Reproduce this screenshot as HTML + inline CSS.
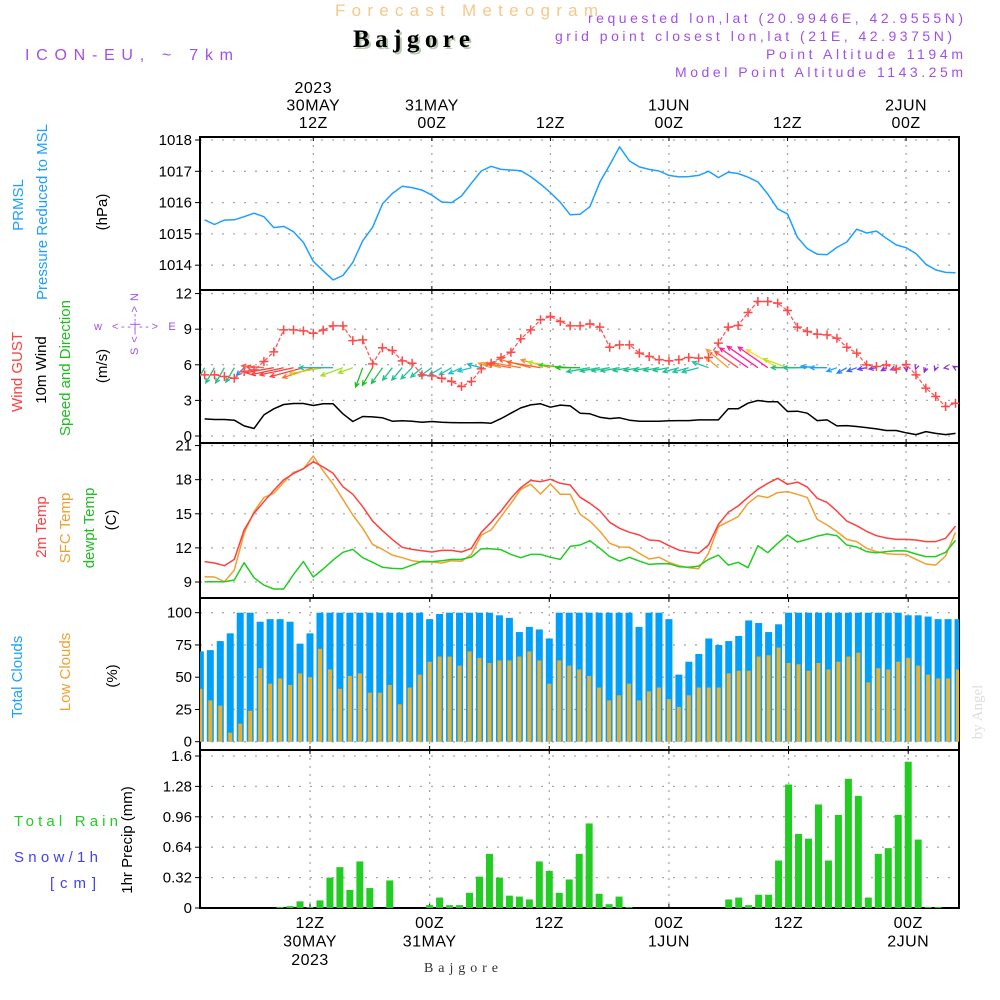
<!DOCTYPE html>
<html><head><meta charset="utf-8"><title>Forecast Meteogram - Bajgore</title>
<style>
html,body{margin:0;padding:0;background:#fff;}
svg{display:block;font-family:"Liberation Sans",sans-serif;}
</style></head>
<body>
<svg id="chart" width="1000" height="1000" viewBox="0 0 1000 1000" xmlns="http://www.w3.org/2000/svg">
<rect x="0" y="0" width="1000" height="1000" fill="#fff"/>
<text x="335" y="16" textLength="263" font-size="17" fill="#f5c88a">Forecast Meteogram</text>
<text x="355" y="49" font-family="Liberation Serif,serif" font-weight="bold" font-size="25" fill="#b8c8b0" textLength="117">Bajgore</text>
<text x="353" y="47" font-family="Liberation Serif,serif" font-weight="bold" font-size="25" fill="#000" textLength="117">Bajgore</text>
<text x="25" y="60" textLength="208" font-size="16" fill="#a050e8">ICON-EU, ~ 7km</text>
<g font-size="14" fill="#a050e8">
<text x="588" y="23" textLength="375">requested lon,lat (20.9946E, 42.9555N)</text>
<text x="555" y="41" textLength="397">grid point closest lon,lat (21E, 42.9375N)</text>
<text x="766" y="59" textLength="197">Point Altitude 1194m</text>
<text x="675" y="77" textLength="288">Model Point Altitude 1143.25m</text>
</g>
<g id="plots"></g>
<text x="424" y="972" font-family="Liberation Serif,serif" font-size="14" fill="#333" textLength="74">Bajgore</text>
<text transform="translate(982,712) rotate(-90)" text-anchor="middle" font-family="Liberation Serif,serif" font-size="15" fill="#ddd">by Angel</text>
<g font-size="15">
<text x="14" y="826" fill="#22cc22" textLength="104">Total  Rain</text>
<text x="14" y="862" fill="#4040ff" textLength="84">Snow/1h</text>
<text x="50" y="888" fill="#4040ff" textLength="46">[cm]</text>
</g>
<g fill="#a050e8" font-size="11" text-anchor="middle">
<text x="98" y="330">w</text>
<text x="172" y="330">E</text>
<text x="135" y="330" textLength="46">&lt;--|--&gt;</text>
<text transform="translate(138,324) rotate(-90)" textLength="62">S &lt;--|--&gt; N</text>
</g>
</svg>
<script>
// ---------- DATA ----------
const hours = [];
for (let h = 1; h <= 77; h++) hours.push(h); // hours after 00Z 30 MAY
const pressure = [1015.45,1015.30,1015.44,1015.45,1015.55,1015.66,1015.55,1015.20,1015.24,1015.07,1014.73,1014.12,1013.82,1013.53,1013.67,1014.09,1014.78,1015.21,1015.96,1016.29,1016.52,1016.48,1016.40,1016.24,1016.02,1016.00,1016.21,1016.62,1017.01,1017.16,1017.06,1017.04,1017.02,1016.83,1016.59,1016.32,1016.01,1015.61,1015.63,1015.87,1016.65,1017.20,1017.78,1017.33,1017.14,1017.06,1017.01,1016.87,1016.82,1016.83,1016.87,1017.00,1016.80,1016.97,1016.93,1016.81,1016.66,1016.27,1015.80,1015.64,1014.89,1014.53,1014.35,1014.34,1014.57,1014.74,1015.15,1015.03,1015.09,1014.86,1014.65,1014.56,1014.37,1014.03,1013.85,1013.77,1013.76];
const gust = [5.15,5.15,5.01,4.87,5.43,5.57,6.28,7.09,8.94,8.94,8.86,8.66,8.92,9.28,9.28,8.04,8.10,6.08,7.43,7.20,6.33,6.13,5.15,5.07,4.87,4.59,4.17,4.59,5.66,6.13,6.61,7.06,8.19,8.94,9.79,10.07,9.65,9.28,9.28,9.45,9.17,7.48,7.68,7.68,6.98,6.70,6.42,6.33,6.42,6.61,6.56,6.61,7.82,9.17,9.31,10.40,11.33,11.33,11.19,10.57,9.17,8.80,8.58,8.52,8.24,7.48,6.98,5.99,5.85,5.99,5.63,6.02,5.15,4.03,3.33,2.48,2.76];
const windSpeed = [1.44,1.39,1.39,1.33,0.85,0.63,1.78,2.29,2.65,2.74,2.74,2.57,2.71,2.71,1.87,1.22,1.64,1.61,1.53,1.25,1.28,1.25,1.16,1.22,1.16,1.13,1.11,1.11,1.13,1.08,1.47,1.92,2.37,2.62,2.71,2.43,2.60,2.54,1.92,1.87,1.58,1.47,1.53,1.33,1.25,1.25,1.25,1.28,1.30,1.30,1.36,1.36,1.36,2.29,2.29,2.76,2.99,2.88,2.88,2.06,2.09,1.92,1.30,1.36,0.85,0.88,0.80,0.71,0.60,0.46,0.46,0.27,0.12,0.37,0.22,0.12,0.22];
const windDir = [30,30,30,30,45,100,95,80,78,78,75,72,80,90,70,70,20,30,35,38,40,45,50,55,60,60,65,75,105,110,105,100,100,105,100,105,100,95,90,80,80,80,80,80,80,80,80,80,75,75,75,110,130,130,125,125,125,125,120,110,90,90,95,90,70,60,70,80,80,60,70,350,20,20,20,80,120];
const windColor = ["#22c080","#22c080","#22c080","#22c080","#1e90ff","#ff4040","#ff6040","#ff4040","#ff4040","#ff4040","#ff4040","#ff7030","#d0d020","#20c0a0","#a0e020","#a0e020","#20c020","#20c020","#20c060","#20c080","#20c090","#20c0a0","#20c0a0","#20c0b0","#20c0c0","#20c0c0","#20c0d0","#20c0d0","#20b0d0","#f0a030","#f0a030","#ff6040","#f08030","#f08030","#ff6030","#f09030","#c0e020","#40d020","#20c020","#20c090","#20c090","#20c090","#20c090","#20c090","#20c090","#20c090","#20c090","#20c090","#20c0a0","#20c0a0","#20c0a0","#20c0a0","#f0a030","#f0a030","#ff5050","#ff20a0","#ff20a0","#ff20a0","#f0e020","#c0e020","#20c080","#20c080","#20a0ff","#20a0ff","#20a0ff","#2080ff","#4060ff","#6040ff","#8040e0","#9030e0","#9030e0","#9030e0","#9030e0","#9030e0","#9030e0","#9030e0","#9030e0"];
const temp2m = [10.79,10.67,10.43,10.99,13.57,15.04,16.06,17.06,18.0,18.53,18.97,19.58,19.11,18.56,17.38,16.71,15.62,14.36,13.51,12.75,12.05,11.87,11.75,11.64,11.78,11.78,11.64,11.96,13.37,14.25,15.24,16.36,17.30,17.94,17.82,18.03,17.68,17.53,16.45,15.92,15.27,14.25,13.72,13.37,13.13,12.69,12.63,12.19,11.81,11.64,11.52,12.25,14.07,15.13,15.68,16.45,17.15,17.68,18.12,17.59,17.79,17.35,16.36,16.00,15.24,14.36,13.95,13.45,13.07,12.87,12.75,12.75,12.69,12.55,12.55,12.84,13.92];
const tempSfc = [9.47,9.44,9.03,10.05,13.28,15.18,16.42,16.80,17.77,18.65,18.94,20.08,18.76,17.62,16.27,14.89,13.72,12.31,11.87,11.37,11.14,10.87,10.76,10.76,10.67,10.87,10.82,11.43,13.13,13.57,14.74,15.91,17.15,17.59,16.74,17.62,16.71,16.71,14.95,14.36,13.48,12.40,12.08,12.05,11.52,11.02,11.17,10.73,10.43,10.26,10.17,11.52,13.87,14.30,14.74,15.92,16.59,16.42,16.86,16.95,16.71,16.42,14.51,14.01,13.43,12.75,12.55,11.96,11.67,11.49,11.43,11.43,10.99,10.58,10.49,11.29,13.37];
const dewpt = [9.03,9.03,9.03,9.18,10.70,9.38,8.73,8.38,8.38,9.67,10.79,9.44,10.14,10.93,11.61,11.87,11.14,10.73,10.29,10.20,10.17,10.49,10.82,10.79,10.87,10.99,10.99,11.20,11.93,11.93,11.84,11.43,11.14,11.43,11.43,11.17,10.99,12.13,12.25,12.63,11.96,11.23,10.84,11.17,10.84,10.55,10.61,10.61,10.35,10.29,10.40,10.99,11.37,10.49,10.73,10.26,12.19,11.58,12.40,13.13,12.52,12.75,13.04,13.22,13.07,12.25,12.08,11.67,11.58,11.67,11.75,11.73,11.46,11.23,11.23,11.61,12.66];
const totalClouds = [70,71,78,84,100,100,93,95,95,93,76,84,100,100,100,100,100,100,100,100,100,100,100,95,99,100,100,100,100,100,98,96,85,89,87,80,100,100,100,100,100,100,100,100,89,100,100,95,52,62,68,80,75,78,82,94,92,85,91,100,100,100,100,100,100,100,100,100,100,100,100,98,98,97,95,95,95];
const lowClouds = [41,32,28,7,14,24,57,45,49,44,53,50,72,56,41,51,53,38,38,44,29,42,52,62,66,66,59,70,65,61,63,63,66,70,63,45,63,59,56,51,42,32,36,45,32,39,42,33,27,36,42,42,42,53,55,55,66,67,73,61,60,55,61,56,62,66,69,46,57,56,62,65,59,52,49,49,56];
const precip = [0,0,0,0,0,0,0,0,0.01,0.02,0.07,0.01,0.08,0.32,0.43,0.19,0.49,0.21,0,0.29,0,0,0,0.03,0.11,0.03,0.03,0.16,0.33,0.57,0.32,0.13,0.12,0.09,0.49,0.39,0.16,0.30,0.57,0.89,0.15,0.04,0.12,0.01,0,0,0,0,0,0,0,0,0,0.09,0.11,0.03,0.14,0.14,0.50,1.30,0.78,0.73,1.09,0.50,0.98,1.36,1.18,0.11,0.57,0.63,0.98,1.54,0.72,0.01,0.01,0,0];
const pressureTicks = [1018,1017,1016,1015,1014];
const windTicks = [12,9,6,3,0];
const tempTicks = [21,18,15,12,9];
const cloudTicks = [100,75,50,25,0];
const precipTicks = ["1.6","1.28","0.96","0.64","0.32","0"];
const gridHours = [12,24,36,48,60,72];
const topLabels = [["2023","30MAY","12Z"],["","31MAY","00Z"],["","","12Z"],["","1JUN","00Z"],["","","12Z"],["","2JUN","00Z"]];
const bottomLabels = [["12Z","30MAY","2023"],["00Z","31MAY",""],["12Z","",""],["00Z","1JUN",""],["12Z","",""],["00Z","2JUN",""]];

// ---------- AXES ----------
const X0 = 200, X1 = 959;
const xLine = t => 313.3 + (t - 12) * 9.88;
const xBar = t => 310 + (t - 12) * 9.97;
const yP = v => 140 + (1018 - v) * 31.3;
const yW = v => 436 - v * 11.87;
const yT = v => 582 - (v - 9) * 11.37;
const yC = v => 741.7 - v * 1.29;
const yR = v => 908 - v * 95;
const panels = [
  {name:"pressure-panel", top:137, bot:290, ticks:pressureTicks, y:yP},
  {name:"wind-panel", top:290, bot:443, ticks:windTicks, y:yW},
  {name:"temperature-panel", top:443, bot:598, ticks:tempTicks, y:yT},
  {name:"cloud-panel", top:598, bot:750, ticks:cloudTicks, y:yC},
  {name:"precip-panel", top:750, bot:908, ticks:precipTicks, y:yR}
];

const NS = "http://www.w3.org/2000/svg";
const root = document.getElementById("plots");
function mk(tag, attrs, parent) {
  const e = document.createElementNS(NS, tag);
  for (const k in attrs) e.setAttribute(k, attrs[k]);
  (parent || root).appendChild(e);
  return e;
}
function txt(s, x, y, attrs, parent) {
  const e = mk("text", Object.assign({x:x, y:y}, attrs), parent);
  e.textContent = s;
  return e;
}

const defs = mk("defs", {});
const cp = mk("clipPath", {id:"plotclip"}, defs);
mk("rect", {x:X0, y:137, width:X1 - X0, height:771}, cp);

panels.forEach(p => {
  const g = mk("g", {});
  
  
  p.ticks.forEach(tv => {
    const v = parseFloat(tv);
    const y = p.y(v);
    mk("line", {x1:X0, x2:X1, y1:y, y2:y, stroke:"#aaa", "stroke-width":1.3, "stroke-dasharray":"2 9"}, g);
    mk("line", {x1:X0 - 5, x2:X0, y1:y, y2:y, stroke:"#000", "stroke-width":1}, g);
    const lab = txt(String(tv), X0 - 8, y + 5, {"text-anchor":"end", "font-size":15, fill:"#000"}, g);
    
    
  });
  const xf = (p.name === "cloud-panel" || p.name === "precip-panel") ? xBar : xLine;
  gridHours.forEach(h => {
    const x = xf(h);
    mk("line", {x1:x, x2:x, y1:p.top, y2:p.bot, stroke:"#aaa", "stroke-width":1.3, "stroke-dasharray":"2 6"}, g);
    mk("line", {x1:x, x2:x, y1:p.top, y2:p.top + 4, stroke:"#000", "stroke-width":1}, g);
    mk("line", {x1:x, x2:x, y1:p.bot - 4, y2:p.bot, stroke:"#000", "stroke-width":1}, g);
  });
  mk("rect", {x:X0, y:p.top, width:X1 - X0, height:p.bot - p.top, fill:"none", stroke:"#000", "stroke-width":2}, g);
});

gridHours.forEach((h, i) => {
  const x = xLine(h);
  topLabels[i].forEach((s, j) => {
    if (!s) return;
    const e = txt(s, x, 93 + j * 17.5, {"text-anchor":"middle", "font-size":16, fill:"#000", "letter-spacing":"0.5"});
    
    
  });
  const xb = xBar(h);
  bottomLabels[i].forEach((s, j) => {
    if (!s) return;
    const e = txt(s, xb, 928 + j * 18.5, {"text-anchor":"middle", "font-size":16, fill:"#000", "letter-spacing":"0.5"});
    
    
  });
});

function vt(s, x, y, color, name) {
  const e = txt(s, 0, 0, {transform:"translate(" + x + "," + y + ") rotate(-90)", "text-anchor":"middle", "font-size":15, fill:color});
  
  
}
vt("PRMSL", 23, 205, "#1ea0ff", "pressure-title");
vt("Pressure Reduced to MSL", 47, 212, "#1ea0ff", "pressure-subtitle");
vt("(hPa)", 107, 212, "#000", "pressure-unit");
vt("Wind GUST", 22, 372, "#ff4040", "gust-title");
vt("10m Wind", 46, 370, "#000", "wind-title");
vt("Speed and Direction", 70, 368, "#22bb22", "wind-dir-title");
vt("(m/s)", 107, 366, "#000", "wind-unit");
vt("2m Temp", 46, 527, "#ff4040", "temp2m-title");
vt("SFC Temp", 70, 528, "#f0a030", "sfc-temp-title");
vt("dewpt Temp", 94, 528, "#22bb22", "dewpt-title");
vt("(C)", 116, 520, "#000", "temp-unit");
vt("Total Clouds", 22, 677, "#1ea0ff", "total-clouds-title");
vt("Low Clouds", 70, 672, "#f0a030", "low-clouds-title");
vt("(%)", 117, 676, "#000", "cloud-unit");
vt("1hr Precip (mm)", 132, 840, "#000", "precip-title");

const plot = mk("g", {"clip-path":"url(#plotclip)"});

function series(vals, xf, yf, color, name, extra) {
  const pts = vals.map((v, i) => xf(hours[i]).toFixed(1) + "," + yf(v).toFixed(1)).join(" ");
  const e = mk("polyline", Object.assign({points:pts, fill:"none", stroke:color, "stroke-width":1.5, "stroke-linejoin":"round"}, extra || {}), plot);
  
  
}

totalClouds.forEach((v, i) => {
  const x = xBar(hours[i]);
  const r = mk("rect", {x:x - 3.5, y:yC(v), width:7, height:yC(0) - yC(v), fill:"#009ffa"}, plot);
  
  
});
lowClouds.forEach((v, i) => {
  const x = xBar(hours[i]);
  const r = mk("rect", {x:x - 2, y:yC(v), width:4, height:yC(0) - yC(v), fill:"#e8b030"}, plot);
  
  
});
precip.forEach((v, i) => {
  if (v <= 0) return;
  const x = xBar(hours[i]);
  const r = mk("rect", {x:x - 3.5, y:yR(v), width:7, height:yR(0) - yR(v), fill:"#22cc22"}, plot);
  
  
});

series(pressure, xLine, yP, "#1ea0ff", "pressure-line");
series(tempSfc, xLine, yT, "#f0a030", "sfc-temp-line");
series(temp2m, xLine, yT, "#ff4040", "temp2m-line");
series(dewpt, xLine, yT, "#22cc22", "dewpt-line");
series(windSpeed, xLine, yW, "#000", "wind-speed-line");

windDir.forEach((d, i) => {
  const x0 = xLine(hours[i]), y0 = yW(5.75);
  const len = windSpeed[i] * 12.5;
  const a = (d + 180) * Math.PI / 180;
  const dx = Math.sin(a) * len, dy = -Math.cos(a) * len;
  const x1 = x0 + dx, y1 = y0 + dy;
  const ang = Math.atan2(dy, dx);
  const hl = 5;
  const hx1 = x1 - hl * Math.cos(ang - 0.45), hy1 = y1 - hl * Math.sin(ang - 0.45);
  const hx2 = x1 - hl * Math.cos(ang + 0.45), hy2 = y1 - hl * Math.sin(ang + 0.45);
  const p = mk("path", {d:"M" + x0.toFixed(1) + "," + y0.toFixed(1) + "L" + x1.toFixed(1) + "," + y1.toFixed(1) + "M" + hx1.toFixed(1) + "," + hy1.toFixed(1) + "L" + x1.toFixed(1) + "," + y1.toFixed(1) + "L" + hx2.toFixed(1) + "," + hy2.toFixed(1), fill:"none", stroke:windColor[i], "stroke-width":1.3}, plot);
  
  
});

series(gust, xLine, yW, "#ff5050", "gust-line", {"stroke-dasharray":"4 2", "stroke-width":1.2});
gust.forEach((v, i) => {
  const x = xLine(hours[i]), y = yW(v);
  const p = mk("path", {d:"M" + (x - 4.5) + "," + y + "h9M" + x + "," + (y - 4.5) + "v9", stroke:"#ff4848", "stroke-width":1.5}, plot);
  
  
});
</script>
</body></html>
